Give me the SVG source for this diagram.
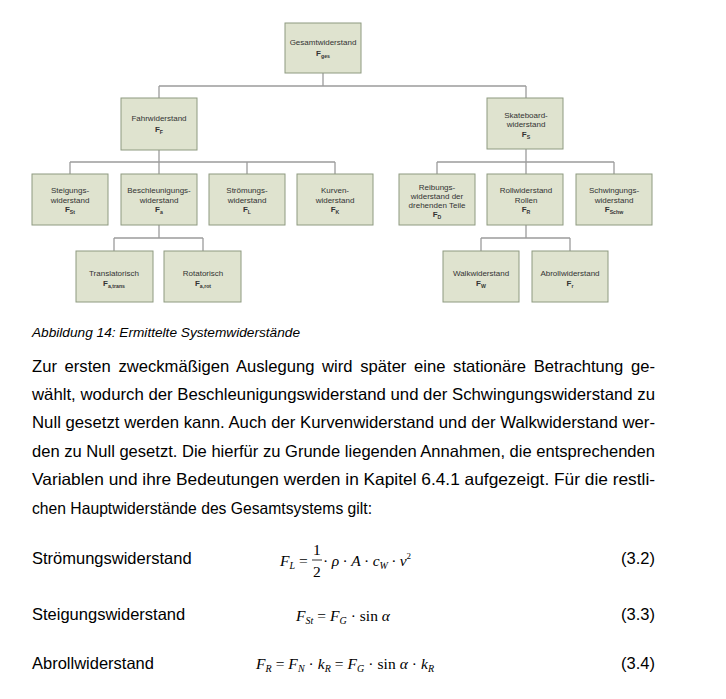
<svg xmlns="http://www.w3.org/2000/svg" width="726" height="699" viewBox="0 0 726 699">
<style>
.box{fill:#dfe3cf;stroke:#8e9a80;stroke-width:1}
.t{font-family:"Liberation Sans",Arial,sans-serif;font-size:8px;fill:#333;text-anchor:middle}
.f{font-weight:bold}
.s{font-size:5.2px;font-weight:bold}
.c{fill:none;stroke:#9c9c9c;stroke-width:1.3}
.body{font-family:"Liberation Sans",Arial,sans-serif;font-size:16.5px;fill:#000}
.cap{font-family:"Liberation Sans",Arial,sans-serif;font-size:13px;font-style:italic;fill:#000}
.m{font-family:"Liberation Serif","Times New Roman",serif;font-size:15.5px;fill:#000}
.mi{font-style:italic}
.ms{font-size:10px;font-style:italic}
</style>
<rect width="726" height="699" fill="#fff"/>
<g id="connectors">
<path class="c" d="M323 73V86M159 86H526M159 86V98M526 86V98"/>
<path class="c" d="M159 150V162M70 162H335M70 162V174M159 162V174M247 162V174M335 162V174"/>
<path class="c" d="M159 225V238M114 238H203M114 238V251M203 238V251"/>
<path class="c" d="M526 149V162M437 162H614M437 162V174M526 162V174M614 162V174"/>
<path class="c" d="M526 225V238M481 238H570M481 238V251M570 238V251"/>
</g>
<g id="gesamt"><rect class="box" x="285" y="23" width="76" height="50"/><text class="t" x="323" y="45">Gesamtwiderstand</text><text class="t f" x="323" y="56">F<tspan class="s" dy="1.5">ges</tspan></text></g>
<g id="fahr"><rect class="box" x="121" y="98" width="76" height="52"/><text class="t" x="159" y="121">Fahrwiderstand</text><text class="t f" x="159" y="132">F<tspan class="s" dy="1.5">F</tspan></text></g>
<g id="steig"><rect class="box" x="32" y="174" width="76" height="51"/><text class="t" x="70" y="193">Steigungs-</text><text class="t" x="70" y="203">widerstand</text><text class="t f" x="70" y="212">F<tspan class="s" dy="1.5">St</tspan></text></g>
<g id="beschl"><rect class="box" x="121" y="174" width="76" height="51"/><text class="t" x="159" y="193">Beschleunigungs-</text><text class="t" x="159" y="203">widerstand</text><text class="t f" x="159" y="212">F<tspan class="s" dy="1.5">a</tspan></text></g>
<g id="stroem"><rect class="box" x="209" y="174" width="76" height="51"/><text class="t" x="247" y="193">Strömungs-</text><text class="t" x="247" y="203">widerstand</text><text class="t f" x="247" y="212">F<tspan class="s" dy="1.5">L</tspan></text></g>
<g id="kurven"><rect class="box" x="297" y="174" width="76" height="51"/><text class="t" x="335" y="193">Kurven-</text><text class="t" x="335" y="203">widerstand</text><text class="t f" x="335" y="212">F<tspan class="s" dy="1.5">K</tspan></text></g>
<g id="trans"><rect class="box" x="76" y="251" width="77" height="51"/><text class="t" x="114" y="276">Translatorisch</text><text class="t f" x="114" y="286">F<tspan class="s" dy="1.5">a,trans</tspan></text></g>
<g id="rot"><rect class="box" x="164" y="251" width="77" height="51"/><text class="t" x="203" y="276">Rotatorisch</text><text class="t f" x="203" y="286">F<tspan class="s" dy="1.5">a,rot</tspan></text></g>
<g id="skate"><rect class="box" x="487" y="98" width="76" height="51"/><text class="t" x="526" y="118">Skateboard-</text><text class="t" x="526" y="127">widerstand</text><text class="t f" x="526" y="137">F<tspan class="s" dy="1.5">S</tspan></text></g>
<g id="reib"><rect class="box" x="399" y="174" width="76" height="51"/><text class="t" x="437" y="190">Reibungs-</text><text class="t" x="437" y="199">widerstand der</text><text class="t" x="437" y="208">drehenden Teile</text><text class="t f" x="437" y="217">F<tspan class="s" dy="1.5">D</tspan></text></g>
<g id="roll"><rect class="box" x="487" y="174" width="76" height="51"/><text class="t" x="526" y="193">Rollwiderstand</text><text class="t" x="526" y="203">Rollen</text><text class="t f" x="526" y="212">F<tspan class="s" dy="1.5">R</tspan></text></g>
<g id="schw"><rect class="box" x="576" y="174" width="76" height="51"/><text class="t" x="614" y="193">Schwingungs-</text><text class="t" x="614" y="203">widerstand</text><text class="t f" x="614" y="212">F<tspan class="s" dy="1.5">Schw</tspan></text></g>
<g id="walk"><rect class="box" x="443" y="251" width="76" height="51"/><text class="t" x="481" y="276">Walkwiderstand</text><text class="t f" x="481" y="286">F<tspan class="s" dy="1.5">W</tspan></text></g>
<g id="abroll"><rect class="box" x="532" y="251" width="76" height="51"/><text class="t" x="570" y="276">Abrollwiderstand</text><text class="t f" x="570" y="286">F<tspan class="s" dy="1.5">r</tspan></text></g>
<text class="cap" x="32" y="337" textLength="268" lengthAdjust="spacingAndGlyphs">Abbildung 14: Ermittelte Systemwiderstände</text>
<text class="body" x="32" y="372" textLength="623" lengthAdjust="spacingAndGlyphs" word-spacing="3">Zur ersten zweckmäßigen Auslegung wird später eine stationäre Betrachtung ge-</text>
<text class="body" x="32" y="400" textLength="623" lengthAdjust="spacingAndGlyphs">wählt, wodurch der Beschleunigungswiderstand und der Schwingungswiderstand zu</text>
<text class="body" x="32" y="428" textLength="623" lengthAdjust="spacingAndGlyphs">Null gesetzt werden kann. Auch der Kurvenwiderstand und der Walkwiderstand wer-</text>
<text class="body" x="32" y="457" textLength="623" lengthAdjust="spacingAndGlyphs">den zu Null gesetzt. Die hierfür zu Grunde liegenden Annahmen, die entsprechenden</text>
<text class="body" x="32" y="485" textLength="623" lengthAdjust="spacingAndGlyphs">Variablen und ihre Bedeutungen werden in Kapitel 6.4.1 aufgezeigt. Für die restli-</text>
<text class="body" x="32" y="514" textLength="340" lengthAdjust="spacingAndGlyphs">chen Hauptwiderstände des Gesamtsystems gilt:</text>
<text class="body" x="32" y="564">Strömungswiderstand</text>
<text class="body" x="32" y="620">Steigungswiderstand</text>
<text class="body" x="32" y="669">Abrollwiderstand</text>
<text class="body" x="655" y="564" text-anchor="end">(3.2)</text>
<text class="body" x="655" y="620" text-anchor="end">(3.3)</text>
<text class="body" x="655" y="669" text-anchor="end">(3.4)</text>
<text class="m" x="280" y="566"><tspan class="mi">F</tspan><tspan class="ms" dy="3">L</tspan><tspan dy="-3"> = </tspan></text>
<text class="m" x="313" y="555">1</text>
<line x1="312" y1="560" x2="322" y2="560" stroke="#000" stroke-width="0.8"/>
<text class="m" x="313" y="577">2</text>
<text class="m" x="323" y="566" textLength="88" lengthAdjust="spacing">· <tspan class="mi">ρ</tspan> · <tspan class="mi">A</tspan> · <tspan class="mi">c</tspan><tspan class="ms" dy="3">W</tspan><tspan dy="-3"> · </tspan><tspan class="mi">v</tspan><tspan font-size="9" dy="-7">2</tspan></text>
<text class="m" x="296" y="621" textLength="94" lengthAdjust="spacing"><tspan class="mi">F</tspan><tspan class="ms" dy="3">St</tspan><tspan dy="-3"> = </tspan><tspan class="mi">F</tspan><tspan class="ms" dy="3">G</tspan><tspan dy="-3"> · sin </tspan><tspan class="mi">α</tspan></text>
<text class="m" x="256" y="669" textLength="178" lengthAdjust="spacing"><tspan class="mi">F</tspan><tspan class="ms" dy="3">R</tspan><tspan dy="-3"> = </tspan><tspan class="mi">F</tspan><tspan class="ms" dy="3">N</tspan><tspan dy="-3"> · </tspan><tspan class="mi">k</tspan><tspan class="ms" dy="3">R</tspan><tspan dy="-3"> = </tspan><tspan class="mi">F</tspan><tspan class="ms" dy="3">G</tspan><tspan dy="-3"> · sin </tspan><tspan class="mi">α</tspan><tspan> · </tspan><tspan class="mi">k</tspan><tspan class="ms" dy="3">R</tspan></text>
</svg>
